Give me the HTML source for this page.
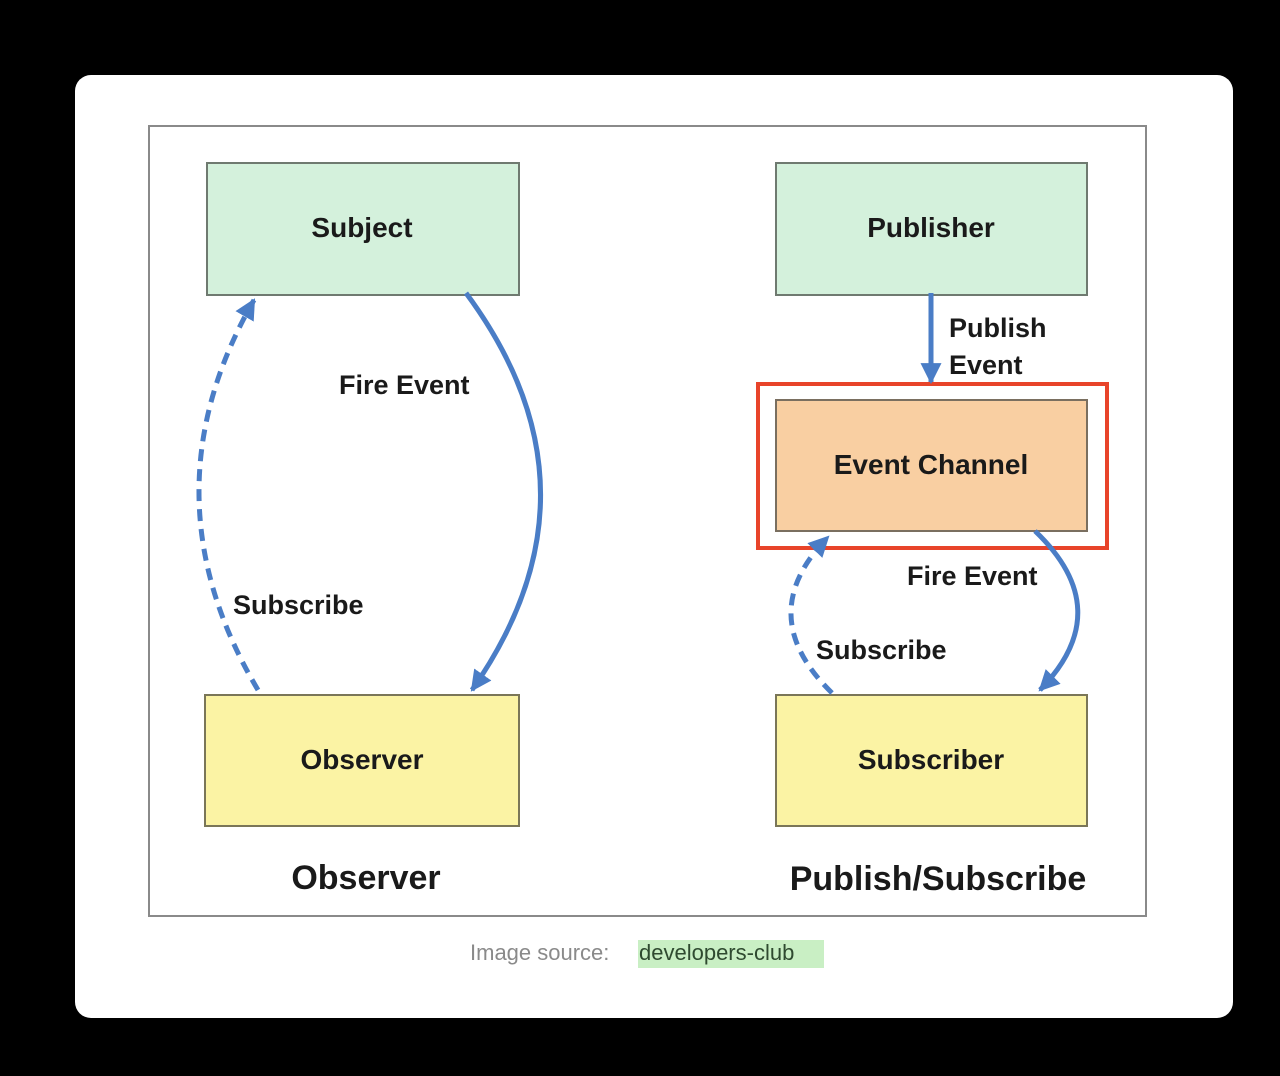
<!DOCTYPE html>
<html><head><meta charset="utf-8"><style>
html,body{margin:0;padding:0;background:#000;}
svg{display:block}
text{font-family:"Liberation Sans",Arial,sans-serif;font-weight:bold;fill:#1a1a1a}
</style></head><body>
<svg width="1280" height="1076" viewBox="0 0 1280 1076" xmlns="http://www.w3.org/2000/svg">
<defs>
<marker id="ah" viewBox="0 0 10 10" refX="9" refY="5" markerWidth="4.2" markerHeight="4.2" orient="auto" markerUnits="strokeWidth">
<path d="M0,0 L10,5 L0,10 z" fill="#4a7dc6"/></marker>
</defs>
<rect x="0" y="0" width="1280" height="1076" fill="#000"/>
<rect x="75" y="75" width="1158" height="943" rx="16" fill="#fff"/>
<rect x="149" y="126" width="997" height="790" fill="#fff" stroke="#8a8a8a" stroke-width="2"/>

<rect x="207" y="163" width="312" height="132" fill="#d4f1dc" stroke="#6f7a70" stroke-width="2"/>
<rect x="776" y="163" width="311" height="132" fill="#d4f1dc" stroke="#6f7a70" stroke-width="2"/>
<rect x="776" y="400" width="311" height="131" fill="#f9cfa2" stroke="#7a6f60" stroke-width="2"/>
<rect x="205" y="695" width="314" height="131" fill="#fbf3a4" stroke="#7a7658" stroke-width="2"/>
<rect x="776" y="695" width="311" height="131" fill="#fbf3a4" stroke="#7a7658" stroke-width="2"/>
<rect x="758" y="384" width="349" height="164" fill="none" stroke="#e8442a" stroke-width="4"/>

<g fill="none" stroke="#4a7dc6" stroke-width="5">
<path d="M466,293 Q612,490 472,690" marker-end="url(#ah)"/>
<path d="M258,690 Q142,495 254,300" stroke-dasharray="12,8" marker-end="url(#ah)"/>
<path d="M931,293 L931,382" marker-end="url(#ah)"/>
<path d="M832,693 Q752,615 828,537" stroke-dasharray="12,8" marker-end="url(#ah)"/>
<path d="M1035,531 Q1118,610 1040,690" marker-end="url(#ah)"/>
</g>

<g font-size="28" text-anchor="middle">
<text x="362" y="237">Subject</text>
<text x="931" y="237">Publisher</text>
<text x="931" y="474">Event Channel</text>
<text x="362" y="769">Observer</text>
<text x="931" y="769">Subscriber</text>
</g>
<g font-size="27">
<text x="339" y="394">Fire Event</text>
<text x="233" y="614">Subscribe</text>
<text x="949" y="337">Publish</text>
<text x="949" y="374">Event</text>
<text x="907" y="585">Fire Event</text>
<text x="816" y="659">Subscribe</text>
</g>
<g font-size="34" text-anchor="middle">
<text x="366" y="889">Observer</text>
<text x="938" y="890">Publish/Subscribe</text>
</g>
<rect x="638" y="940" width="186" height="28" fill="#c9efc4"/>
<text x="470" y="960" font-size="22" style="font-weight:normal;fill:#8a8a8a">Image source:</text>
<text x="639" y="960" font-size="22" style="font-weight:normal;fill:#2f4a30">developers-club</text>
</svg>
</body></html>
